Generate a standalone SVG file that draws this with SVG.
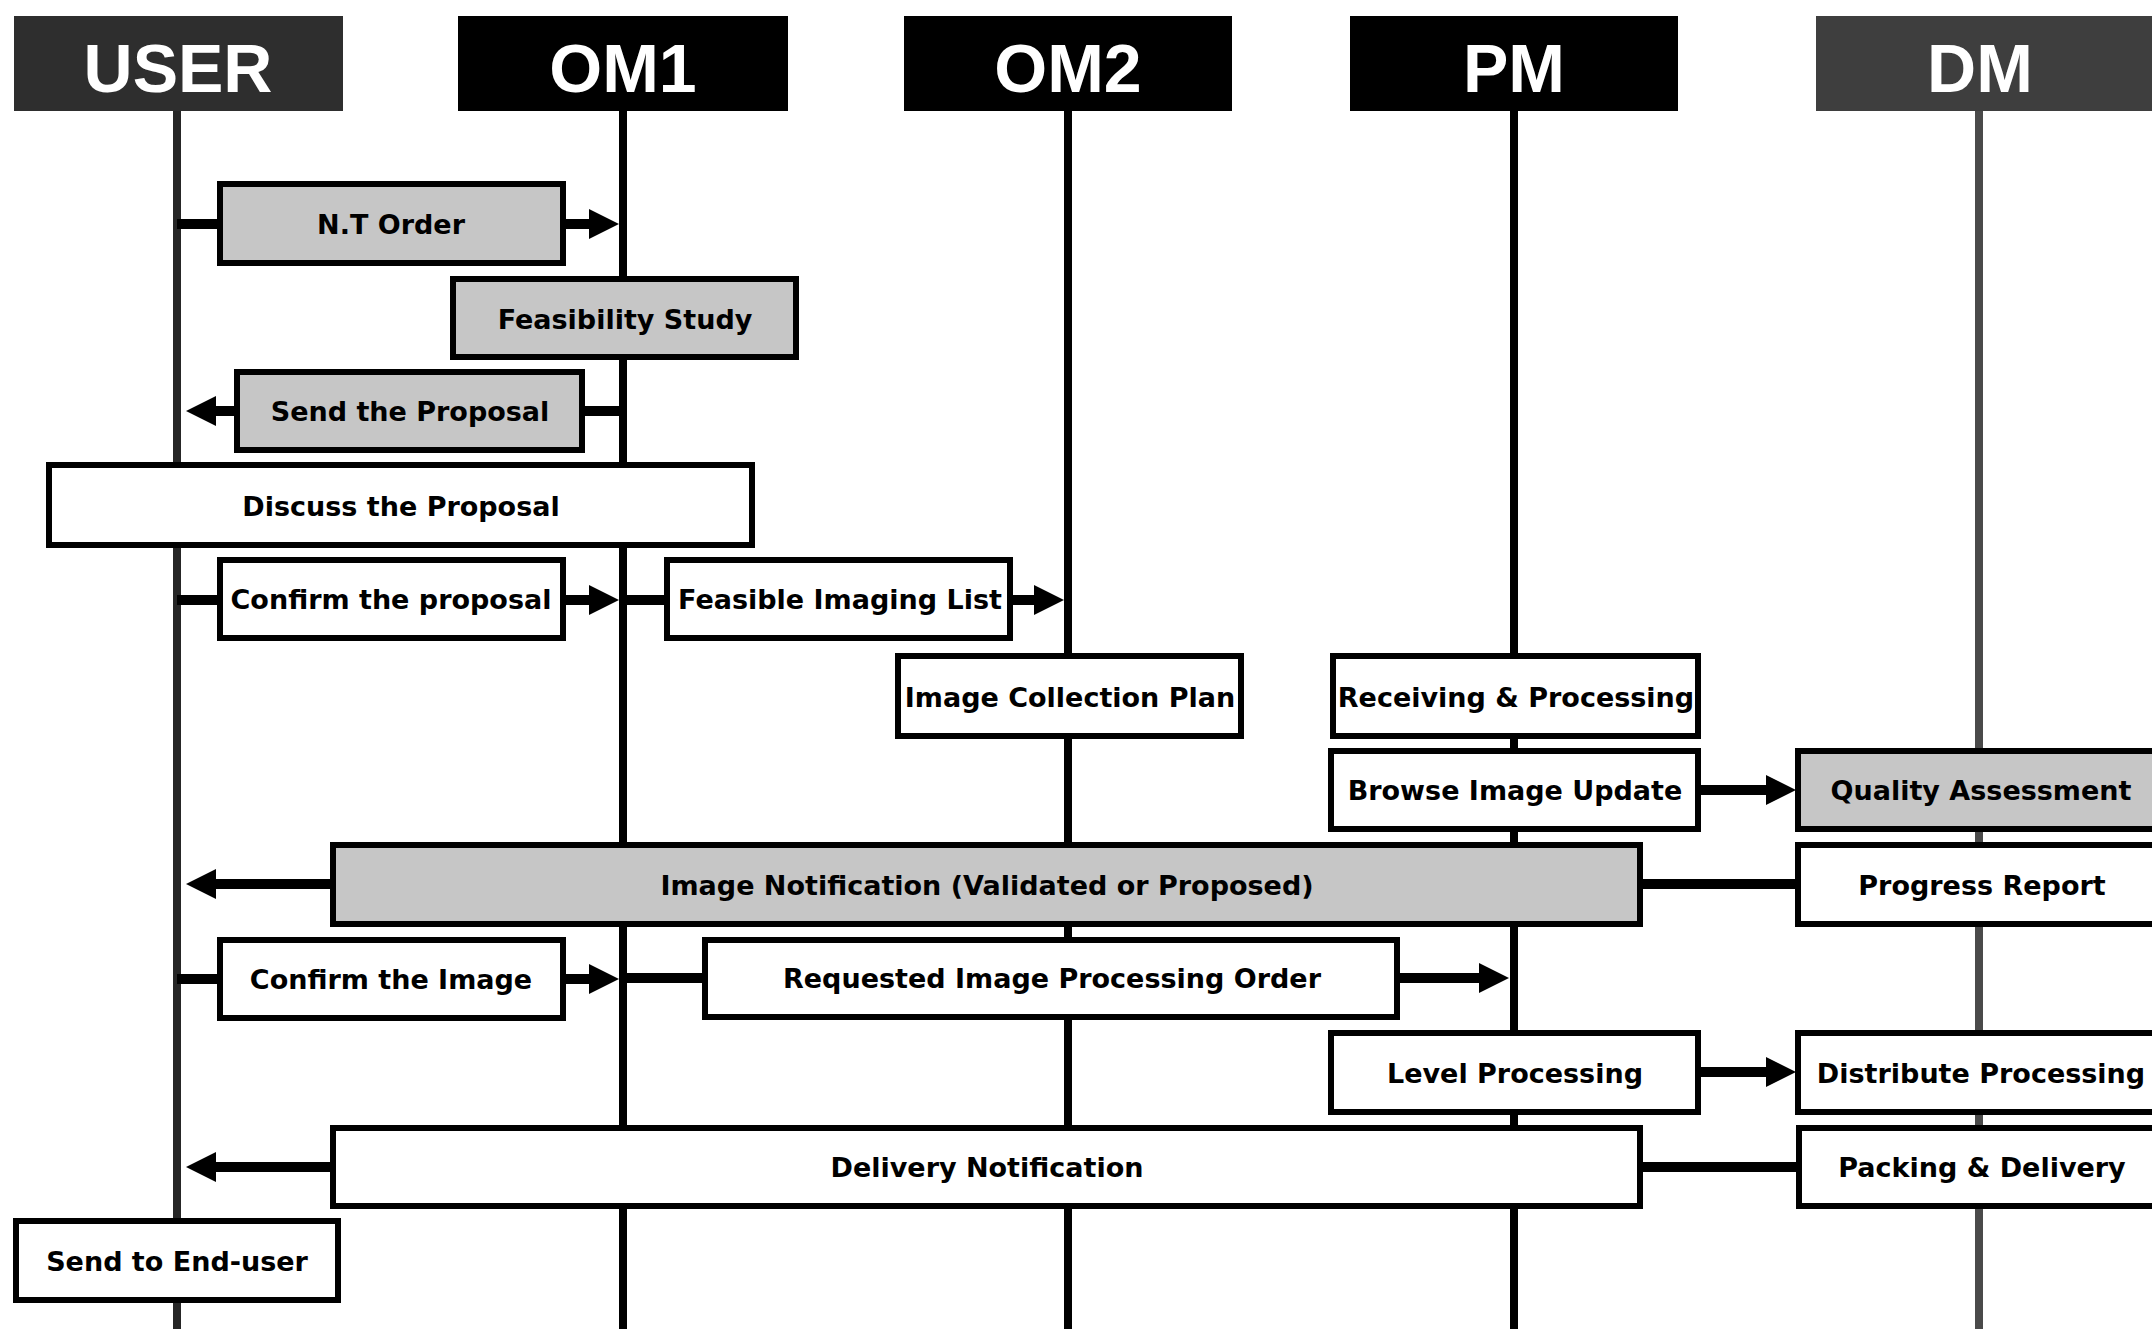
<svg xmlns="http://www.w3.org/2000/svg" width="2152" height="1329" viewBox="0 0 2152 1329">
<style>
.hdr{font-family:"Liberation Sans",Arial,sans-serif;font-weight:bold;font-size:68px;fill:#fff;text-anchor:middle}
.lbl{font-family:"DejaVu Sans",Verdana,sans-serif;font-weight:bold;font-size:27px;fill:#000;text-anchor:middle}
.box{fill:#fff;stroke:#000;stroke-width:6}
.gbox{fill:#c6c6c6;stroke:#000;stroke-width:6}
.life{stroke:#000;stroke-width:8;fill:none}
.conn{stroke:#000;stroke-width:10;fill:none}
.arr{stroke:#000;stroke-width:10;fill:none;marker-end:url(#ah)}
</style>
<defs>
<marker id="ah" viewBox="0 0 30 30" refX="0" refY="15" markerWidth="30" markerHeight="30" markerUnits="userSpaceOnUse" orient="auto">
<path d="M0,0 L30,15 L0,30 z" fill="#000"/>
</marker>
</defs>
<rect width="2152" height="1329" fill="#fff"/>

<g id="lane-user">
<line class="life" x1="177" y1="110" x2="177" y2="1329" style="stroke:#262626"/>
<rect x="14" y="16" width="329" height="95" fill="#2e2e2e"/>
<text class="hdr" x="178" y="92">USER</text>
</g>
<g id="lane-om1">
<line class="life" x1="623" y1="110" x2="623" y2="1329"/>
<rect x="458" y="16" width="330" height="95" fill="#000"/>
<text class="hdr" x="623" y="92">OM1</text>
</g>
<g id="lane-om2">
<line class="life" x1="1068" y1="110" x2="1068" y2="1329"/>
<rect x="904" y="16" width="328" height="95" fill="#000"/>
<text class="hdr" x="1068" y="92">OM2</text>
</g>
<g id="lane-pm">
<line class="life" x1="1514" y1="110" x2="1514" y2="1329"/>
<rect x="1350" y="16" width="328" height="95" fill="#000"/>
<text class="hdr" x="1514" y="92">PM</text>
</g>
<g id="lane-dm">
<line class="life" x1="1979" y1="110" x2="1979" y2="1329" style="stroke:#4a4a4a"/>
<rect x="1816" y="16" width="340" height="95" fill="#3e3e3e"/>
<text class="hdr" x="1980" y="92">DM</text>
</g>

<g id="connectors">
<line class="conn" x1="177" y1="224" x2="220" y2="224"/>
<line class="arr" x1="563" y1="224" x2="589" y2="224"/>
<line class="conn" x1="623" y1="411" x2="582" y2="411"/>
<line class="arr" x1="237" y1="411" x2="216" y2="411"/>
<line class="conn" x1="177" y1="600" x2="220" y2="600"/>
<line class="arr" x1="563" y1="600" x2="589" y2="600"/>
<line class="conn" x1="623" y1="600" x2="667" y2="600"/>
<line class="arr" x1="1010" y1="600" x2="1034" y2="600"/>
<line class="arr" x1="1698" y1="790" x2="1766" y2="790"/>
<line class="arr" x1="333" y1="884" x2="216" y2="884"/>
<line class="conn" x1="1640" y1="884" x2="1798" y2="884"/>
<line class="conn" x1="177" y1="979" x2="220" y2="979"/>
<line class="arr" x1="563" y1="979" x2="589" y2="979"/>
<line class="conn" x1="623" y1="978" x2="705" y2="978"/>
<line class="arr" x1="1397" y1="978" x2="1479" y2="978"/>
<line class="arr" x1="1698" y1="1072" x2="1766" y2="1072"/>
<line class="arr" x1="333" y1="1167" x2="216" y2="1167"/>
<line class="conn" x1="1640" y1="1167" x2="1799" y2="1167"/>
</g>

<g id="nt-order"><rect class="gbox" x="220" y="184" width="343" height="79"/><text class="lbl" x="391" y="234">N.T Order</text></g>
<g id="feasibility-study"><rect class="gbox" x="453" y="279" width="343" height="78"/><text class="lbl" x="625" y="329">Feasibility Study</text></g>
<g id="send-proposal"><rect class="gbox" x="237" y="372" width="345" height="78"/><text class="lbl" x="410" y="421">Send the Proposal</text></g>
<g id="discuss-proposal"><rect class="box" x="49" y="465" width="703" height="80"/><text class="lbl" x="401" y="516">Discuss the Proposal</text></g>
<g id="confirm-proposal"><rect class="box" x="220" y="560" width="343" height="78"/><text class="lbl" x="391" y="609">Confirm the proposal</text></g>
<g id="feasible-imaging-list"><rect class="box" x="667" y="560" width="343" height="78"/><text class="lbl" x="840" y="609">Feasible Imaging List</text></g>
<g id="image-collection-plan"><rect class="box" x="898" y="656" width="343" height="80"/><text class="lbl" x="1070" y="707">Image Collection Plan</text></g>
<g id="receiving-processing"><rect class="box" x="1333" y="656" width="365" height="80"/><text class="lbl" x="1516" y="707">Receiving &amp; Processing</text></g>
<g id="browse-image-update"><rect class="box" x="1331" y="751" width="367" height="78"/><text class="lbl" x="1515" y="800">Browse Image Update</text></g>
<g id="quality-assessment"><rect class="gbox" x="1798" y="751" width="366" height="78"/><text class="lbl" x="1981" y="800">Quality Assessment</text></g>
<g id="image-notification"><rect class="gbox" x="333" y="845" width="1307" height="79"/><text class="lbl" x="987" y="895">Image Notification (Validated or Proposed)</text></g>
<g id="progress-report"><rect class="box" x="1798" y="845" width="366" height="79"/><text class="lbl" x="1982" y="895">Progress Report</text></g>
<g id="confirm-image"><rect class="box" x="220" y="940" width="343" height="78"/><text class="lbl" x="391" y="989">Confirm the Image</text></g>
<g id="requested-order"><rect class="box" x="705" y="940" width="692" height="77"/><text class="lbl" x="1052" y="988">Requested Image Processing Order</text></g>
<g id="level-processing"><rect class="box" x="1331" y="1033" width="367" height="79"/><text class="lbl" x="1515" y="1083">Level Processing</text></g>
<g id="distribute-processing"><rect class="box" x="1798" y="1033" width="366" height="79"/><text class="lbl" x="1981" y="1083">Distribute Processing</text></g>
<g id="delivery-notification"><rect class="box" x="333" y="1128" width="1307" height="78"/><text class="lbl" x="987" y="1177">Delivery Notification</text></g>
<g id="packing-delivery"><rect class="box" x="1799" y="1128" width="365" height="78"/><text class="lbl" x="1982" y="1177">Packing &amp; Delivery</text></g>
<g id="send-end-user"><rect class="box" x="16" y="1221" width="322" height="79"/><text class="lbl" x="177" y="1271">Send to End-user</text></g>
</svg>
